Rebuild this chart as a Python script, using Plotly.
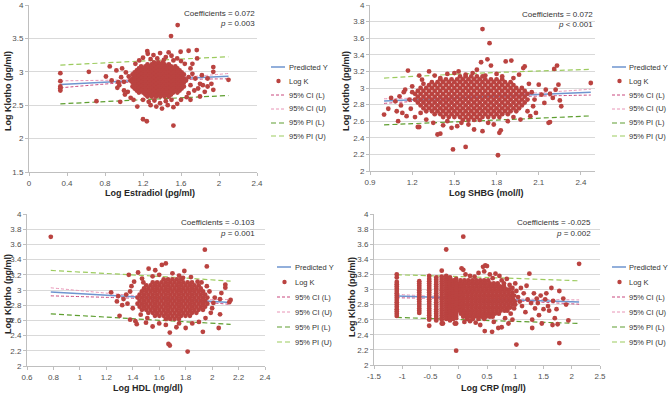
import plotly.graph_objects as go

W, H = 669, 393
FONT = "Liberation Sans, Arial, sans-serif"

# ------------------------------------------------------------------ data
legend_names = ["Predicted Y", "Log K", "95% CI (L)", "95% CI (U)", "95% PI (L)", "95% PI (U)"]

# ---- Panel 1: Log Estradiol
est_xticks = [0, 0.4, 0.8, 1.2, 1.6, 2, 2.4]
est_yticks = [1.5, 2, 2.5, 3, 3.5, 4]
est_line_x = [0.33, 1.35, 2.10]
est_pred = [2.81, 2.883, 2.935]
est_ci_l = [2.76, 2.871, 2.895]
est_ci_u = [2.865, 2.895, 2.975]
est_pi_l = [2.52, 2.593, 2.645]
est_pi_u = [3.10, 3.173, 3.225]
est_core = [
    (3.14, [1.315, 1.36, 1.405]),
    (3.11, [1.247, 1.292, 1.337, 1.382, 1.427, 1.472]),
    (3.08, [1.18, 1.225, 1.27, 1.315, 1.36, 1.405, 1.45, 1.495, 1.54]),
    (3.05, [1.157, 1.202, 1.247, 1.292, 1.337, 1.382, 1.427, 1.472, 1.517, 1.562]),
    (3.02, [1.135, 1.18, 1.225, 1.27, 1.315, 1.36, 1.405, 1.45, 1.495, 1.54, 1.585]),
    (2.99, [1.112, 1.157, 1.202, 1.247, 1.292, 1.337, 1.382, 1.427, 1.472, 1.517, 1.562, 1.607]),
    (2.96, [1.09, 1.135, 1.18, 1.225, 1.27, 1.315, 1.36, 1.405, 1.45, 1.495, 1.54, 1.585, 1.63]),
    (2.93, [1.112, 1.157, 1.202, 1.247, 1.292, 1.337, 1.382, 1.427, 1.472, 1.517, 1.562, 1.607]),
    (2.90, [1.09, 1.135, 1.18, 1.225, 1.27, 1.315, 1.36, 1.405, 1.45, 1.495, 1.54, 1.585, 1.63]),
    (2.87, [1.067, 1.112, 1.157, 1.202, 1.247, 1.292, 1.337, 1.382, 1.427, 1.472, 1.517, 1.562, 1.607, 1.652]),
    (2.84, [1.09, 1.135, 1.18, 1.225, 1.27, 1.315, 1.36, 1.405, 1.45, 1.495, 1.54, 1.585, 1.63]),
    (2.81, [1.112, 1.157, 1.202, 1.247, 1.292, 1.337, 1.382, 1.427, 1.472, 1.517, 1.562, 1.607]),
    (2.78, [1.09, 1.135, 1.18, 1.225, 1.27, 1.315, 1.36, 1.405, 1.45, 1.495, 1.54, 1.585, 1.63]),
    (2.75, [1.112, 1.157, 1.202, 1.247, 1.292, 1.337, 1.382, 1.427, 1.472, 1.517, 1.562, 1.607]),
    (2.72, [1.135, 1.18, 1.225, 1.27, 1.315, 1.36, 1.405, 1.45, 1.495, 1.54, 1.585]),
    (2.69, [1.157, 1.202, 1.247, 1.292, 1.337, 1.382, 1.427, 1.472, 1.517, 1.562]),
    (2.66, [1.225, 1.27, 1.315, 1.36, 1.405, 1.45, 1.495]),
    (2.63, [1.247, 1.292, 1.337, 1.382, 1.427, 1.472]),
]
est_halo = [
    (1.565, 3.70), (1.495, 3.535), (1.245, 3.31), (1.68, 3.315), (1.766, 3.325), (1.596, 3.30),
    (1.25, 3.27), (1.31, 3.25), (1.38, 3.28), (1.44, 3.22), (1.50, 3.24), (1.56, 3.20),
    (1.20, 3.21), (1.16, 3.17), (1.28, 3.19), (1.42, 3.18), (1.52, 3.17), (1.60, 3.16),
    (1.35, 3.20), (1.47, 3.29), (1.64, 3.12), (1.12, 3.12),
    (0.33, 2.98), (0.63, 3.00), (0.33, 2.86), (0.33, 2.78), (0.33, 2.755), (0.33, 2.72),
    (0.71, 2.56), (0.85, 3.08), (0.81, 2.93), (0.87, 2.87), (0.94, 2.845), (0.93, 2.76),
    (1.00, 2.72), (1.01, 2.66), (0.96, 2.55), (1.07, 2.61), (1.10, 2.58), (0.98, 3.05),
    (0.92, 3.02), (0.97, 2.92), (1.02, 2.99), (1.00, 2.85), (0.95, 2.80), (1.04, 2.70),
    (1.70, 3.05), (1.72, 2.97), (1.75, 2.90), (1.70, 2.80), (1.74, 2.72), (1.68, 2.68),
    (1.80, 2.82), (1.78, 2.75), (1.83, 2.80), (1.85, 2.70), (1.88, 2.78), (1.92, 2.82),
    (1.80, 2.63), (1.66, 2.62), (1.72, 3.12), (1.77, 3.20), (1.94, 3.07), (1.94, 3.00),
    (2.10, 2.88), (1.94, 2.73), (1.88, 2.90), (1.82, 2.95), (1.70, 2.58), (1.68, 2.92),
    (1.20, 2.58), (1.26, 2.55), (1.32, 2.57), (1.38, 2.53), (1.44, 2.56), (1.50, 2.58),
    (1.56, 2.52), (1.60, 2.58), (1.34, 2.48), (1.40, 2.45), (1.46, 2.50), (1.28, 2.50),
    (1.14, 2.48), (1.52, 2.47), (1.20, 2.29), (1.24, 2.26), (1.52, 2.195), (1.05, 2.93),
]

# ---- Panel 2: Log SHBG
shbg_xticks = [0.9, 1.2, 1.5, 1.8, 2.1, 2.4]
shbg_yticks = [2, 2.2, 2.4, 2.6, 2.8, 3, 3.2, 3.4, 3.6, 3.8, 4]
shbg_line_x = [1.0, 1.65, 2.47]
shbg_pred = [2.843, 2.89, 2.949]
shbg_ci_l = [2.815, 2.88, 2.915]
shbg_ci_u = [2.87, 2.90, 2.985]
shbg_pi_l = [2.556, 2.603, 2.664]
shbg_pi_u = [3.12, 3.177, 3.224]
shbg_core = [
    (3.14, [1.54, 1.58, 1.62, 1.66, 1.70]),
    (3.105, [1.40, 1.44, 1.48, 1.52, 1.56, 1.60, 1.64, 1.68, 1.72, 1.76, 1.80, 1.84]),
    (3.07, [1.34, 1.38, 1.42, 1.46, 1.50, 1.54, 1.58, 1.62, 1.66, 1.70, 1.74, 1.78, 1.82, 1.86, 1.90]),
    (3.035, [1.32, 1.36, 1.40, 1.44, 1.48, 1.52, 1.56, 1.60, 1.64, 1.68, 1.72, 1.76, 1.80, 1.84, 1.88, 1.92]),
    (3.00, [1.26, 1.30, 1.34, 1.38, 1.42, 1.46, 1.50, 1.54, 1.58, 1.62, 1.66, 1.70, 1.74, 1.78, 1.82, 1.86, 1.90, 1.94, 1.98]),
    (2.965, [1.24, 1.28, 1.32, 1.36, 1.40, 1.44, 1.48, 1.52, 1.56, 1.60, 1.64, 1.68, 1.72, 1.76, 1.80, 1.84, 1.88, 1.92, 1.96, 2.00]),
    (2.93, [1.22, 1.26, 1.30, 1.34, 1.38, 1.42, 1.46, 1.50, 1.54, 1.58, 1.62, 1.66, 1.70, 1.74, 1.78, 1.82, 1.86, 1.90, 1.94, 1.98, 2.02]),
    (2.895, [1.24, 1.28, 1.32, 1.36, 1.40, 1.44, 1.48, 1.52, 1.56, 1.60, 1.64, 1.68, 1.72, 1.76, 1.80, 1.84, 1.88, 1.92, 1.96, 2.00]),
    (2.86, [1.22, 1.26, 1.30, 1.34, 1.38, 1.42, 1.46, 1.50, 1.54, 1.58, 1.62, 1.66, 1.70, 1.74, 1.78, 1.82, 1.86, 1.90, 1.94, 1.98, 2.02]),
    (2.825, [1.24, 1.28, 1.32, 1.36, 1.40, 1.44, 1.48, 1.52, 1.56, 1.60, 1.64, 1.68, 1.72, 1.76, 1.80, 1.84, 1.88, 1.92, 1.96, 2.00]),
    (2.79, [1.26, 1.30, 1.34, 1.38, 1.42, 1.46, 1.50, 1.54, 1.58, 1.62, 1.66, 1.70, 1.74, 1.78, 1.82, 1.86, 1.90, 1.94, 1.98]),
    (2.755, [1.28, 1.32, 1.36, 1.40, 1.44, 1.48, 1.52, 1.56, 1.60, 1.64, 1.68, 1.72, 1.76, 1.80, 1.84, 1.88, 1.92, 1.96]),
    (2.72, [1.30, 1.34, 1.38, 1.42, 1.46, 1.50, 1.54, 1.58, 1.62, 1.66, 1.70, 1.74, 1.78, 1.82, 1.86, 1.90, 1.94]),
    (2.685, [1.36, 1.40, 1.44, 1.48, 1.52, 1.56, 1.60, 1.64, 1.68, 1.72, 1.76, 1.80, 1.84, 1.88]),
    (2.65, [1.42, 1.46, 1.50, 1.54, 1.58, 1.62, 1.66, 1.70, 1.74, 1.78, 1.82]),
    (2.615, [1.56, 1.60, 1.64, 1.68]),
]
shbg_halo = [
    (1.70, 3.71), (1.75, 3.54), (1.49, 2.26), (1.58, 2.29), (1.81, 2.19), (1.40, 2.45),
    (1.00, 2.68), (1.03, 2.75), (1.05, 2.88), (1.08, 2.84), (1.09, 2.72), (1.10, 2.60),
    (1.11, 2.90), (1.12, 2.79), (1.13, 2.70), (1.14, 2.95), (1.15, 2.98), (1.16, 2.66),
    (1.17, 3.21), (1.18, 2.86), (1.19, 2.75), (1.20, 2.95), (1.20, 3.02), (1.22, 2.65),
    (1.24, 2.53), (1.25, 3.15), (1.26, 2.70), (1.28, 3.05), (1.30, 2.62), (1.27, 3.10),
    (1.32, 3.20), (1.36, 3.15), (1.40, 3.12), (1.45, 3.17), (1.50, 3.18), (1.53, 3.20),
    (1.58, 3.16), (1.63, 3.18), (1.66, 3.22), (1.69, 3.31), (1.72, 3.15), (1.735, 3.345),
    (1.76, 3.27), (1.80, 3.17), (1.84, 3.14), (1.865, 3.32), (1.905, 3.33), (1.92, 3.12),
    (1.99, 3.24), (2.00, 3.26), (1.96, 3.16),
    (2.03, 3.05), (2.05, 2.95), (2.06, 2.78), (2.07, 2.86), (2.08, 2.70), (2.10, 3.04),
    (2.12, 2.92), (2.14, 2.82), (2.15, 2.98), (2.17, 2.58), (2.18, 2.93), (2.20, 2.88),
    (2.21, 3.23), (2.23, 3.27), (2.24, 3.04), (2.25, 2.85), (2.26, 2.78), (2.22, 2.98),
    (2.47, 3.06), (2.04, 2.66), (2.02, 2.72), (2.18, 2.59),
    (1.35, 2.58), (1.38, 2.44), (1.42, 2.55), (1.45, 2.60), (1.48, 2.52), (1.52, 2.54),
    (1.55, 2.58), (1.60, 2.56), (1.64, 2.50), (1.70, 2.48), (1.74, 2.58), (1.78, 2.56),
    (1.82, 2.46), (1.83, 2.49), (1.88, 2.60), (1.92, 2.65), (1.97, 2.62), (1.25, 2.53),
]

# ---- Panel 3: Log HDL
hdl_xticks = [0.6, 0.8, 1, 1.2, 1.4, 1.6, 1.8, 2, 2.2, 2.4]
hdl_yticks = [2, 2.2, 2.4, 2.6, 2.8, 3, 3.2, 3.4, 3.6, 3.8, 4]
hdl_line_x = [0.78, 1.70, 2.14]
hdl_pred = [2.975, 2.88, 2.835]
hdl_ci_l = [2.923, 2.87, 2.81]
hdl_ci_u = [3.029, 2.89, 2.875]
hdl_pi_l = [2.686, 2.592, 2.549]
hdl_pi_u = [3.257, 3.168, 3.116]
hdl_core = [
    (3.14, [1.634, 1.667, 1.70, 1.733, 1.766]),
    (3.10, [1.551, 1.584, 1.617, 1.65, 1.683, 1.716, 1.749, 1.782, 1.815, 1.848]),
    (3.06, [1.502, 1.535, 1.568, 1.601, 1.634, 1.667, 1.70, 1.733, 1.766, 1.799, 1.832, 1.865, 1.898]),
    (3.02, [1.485, 1.518, 1.551, 1.584, 1.617, 1.65, 1.683, 1.716, 1.749, 1.782, 1.815, 1.848, 1.881, 1.914]),
    (2.98, [1.469, 1.502, 1.535, 1.568, 1.601, 1.634, 1.667, 1.70, 1.733, 1.766, 1.799, 1.832, 1.865, 1.898, 1.931]),
    (2.94, [1.452, 1.485, 1.518, 1.551, 1.584, 1.617, 1.65, 1.683, 1.716, 1.749, 1.782, 1.815, 1.848, 1.881, 1.914, 1.947]),
    (2.90, [1.436, 1.469, 1.502, 1.535, 1.568, 1.601, 1.634, 1.667, 1.70, 1.733, 1.766, 1.799, 1.832, 1.865, 1.898, 1.931, 1.964]),
    (2.86, [1.452, 1.485, 1.518, 1.551, 1.584, 1.617, 1.65, 1.683, 1.716, 1.749, 1.782, 1.815, 1.848, 1.881, 1.914, 1.947]),
    (2.82, [1.436, 1.469, 1.502, 1.535, 1.568, 1.601, 1.634, 1.667, 1.70, 1.733, 1.766, 1.799, 1.832, 1.865, 1.898, 1.931, 1.964]),
    (2.78, [1.452, 1.485, 1.518, 1.551, 1.584, 1.617, 1.65, 1.683, 1.716, 1.749, 1.782, 1.815, 1.848, 1.881, 1.914, 1.947]),
    (2.74, [1.469, 1.502, 1.535, 1.568, 1.601, 1.634, 1.667, 1.70, 1.733, 1.766, 1.799, 1.832, 1.865, 1.898, 1.931]),
    (2.70, [1.518, 1.551, 1.584, 1.617, 1.65, 1.683, 1.716, 1.749, 1.782, 1.815, 1.848, 1.881]),
    (2.66, [1.568, 1.601, 1.634, 1.667, 1.70, 1.733, 1.766, 1.799, 1.832]),
    (2.62, [1.65, 1.683, 1.716, 1.749]),
]
hdl_halo = [
    (0.78, 3.70), (1.945, 3.53), (1.96, 3.31), (1.67, 2.29), (1.68, 2.27), (1.815, 2.19),
    (1.236, 2.97), (1.28, 2.85), (1.30, 2.66), (1.38, 2.61), (1.43, 2.55), (1.37, 3.20),
    (1.44, 3.23), (1.52, 3.28), (1.57, 3.26), (1.62, 3.33), (1.65, 3.35), (1.79, 3.25),
    (1.78, 3.16), (1.89, 3.11), (2.10, 3.07), (2.10, 3.03), (2.14, 2.87), (2.06, 2.68),
    (2.05, 2.50), (1.93, 2.45), (1.68, 2.44), (1.80, 2.50), (1.73, 2.51), (1.85, 2.56),
    (1.95, 2.63), (2.00, 2.76), (2.01, 2.83), (2.06, 2.88), (2.07, 2.96), (1.96, 3.05),
    (1.46, 2.675), (1.42, 2.59), (1.36, 2.82), (1.35, 2.94), (1.39, 3.05), (1.41, 3.11),
    (1.33, 2.88), (1.29, 2.92), (1.51, 2.63), (1.55, 3.18), (1.60, 3.20), (1.70, 3.22),
    (1.75, 3.19), (1.84, 3.17), (1.92, 3.10), (1.98, 2.98), (2.02, 2.90), (1.99, 2.70),
    (1.90, 2.58), (1.60, 2.56), (1.55, 2.52), (1.65, 2.54), (1.75, 2.56), (1.50, 2.57),
    (1.40, 2.76), (1.38, 2.98), (1.47, 3.15), (1.32, 2.80), (1.48, 3.10), (2.13, 2.84),
]

# ---- Panel 4: Log CRP
crp_xticks = [-1.5, -1, -0.5, 0, 0.5, 1, 1.5, 2, 2.5]
crp_yticks = [2, 2.2, 2.4, 2.6, 2.8, 3, 3.2, 3.4, 3.6, 3.8, 4]
crp_line_x = [-1.1, 0.3, 2.13]
crp_pred = [2.915, 2.88, 2.834]
crp_ci_l = [2.89, 2.872, 2.805]
crp_ci_u = [2.935, 2.888, 2.862]
crp_pi_l = [2.63, 2.595, 2.55]
crp_pi_u = [3.195, 3.165, 3.115]
crp_levels = [-1.097, -0.699, -0.523, -0.398, -0.301, -0.222, -0.155, -0.097, -0.046]
crp_level_y = [
    [3.20, 3.16, 3.10, 3.07, 3.04, 3.01, 2.98, 2.95, 2.92, 2.89, 2.86, 2.83, 2.80, 2.77, 2.74, 2.71, 2.68, 2.65],
    [3.11, 3.08, 3.05, 3.02, 2.99, 2.96, 2.93, 2.90, 2.87, 2.84, 2.81, 2.78, 2.75, 2.72, 2.69],
    [3.18, 3.14, 3.11, 3.08, 3.05, 3.02, 2.99, 2.96, 2.93, 2.90, 2.87, 2.84, 2.81, 2.78, 2.75, 2.72, 2.69, 2.66, 2.63, 2.60, 2.52],
    [3.16, 3.13, 3.10, 3.07, 3.04, 3.01, 2.98, 2.95, 2.92, 2.89, 2.86, 2.83, 2.80, 2.77, 2.74, 2.71, 2.68, 2.65, 2.62, 2.59],
    [3.25, 3.17, 3.14, 3.11, 3.08, 3.05, 3.02, 2.99, 2.96, 2.93, 2.90, 2.87, 2.84, 2.81, 2.78, 2.75, 2.72, 2.69, 2.66, 2.63, 2.60, 2.55],
    [3.53, 3.18, 3.15, 3.12, 3.09, 3.06, 3.03, 3.00, 2.97, 2.94, 2.91, 2.88, 2.85, 2.82, 2.79, 2.76, 2.73, 2.70, 2.67, 2.64, 2.61],
    [3.16, 3.13, 3.10, 3.07, 3.04, 3.01, 2.98, 2.95, 2.92, 2.89, 2.86, 2.83, 2.80, 2.77, 2.74, 2.71, 2.68, 2.65, 2.62, 2.59],
    [3.12, 3.09, 3.06, 3.03, 3.00, 2.97, 2.94, 2.91, 2.88, 2.85, 2.82, 2.79, 2.76, 2.73, 2.70, 2.67, 2.64, 2.61],
    [3.14, 3.10, 3.07, 3.04, 3.01, 2.98, 2.95, 2.92, 2.89, 2.86, 2.83, 2.80, 2.77, 2.74, 2.71, 2.68, 2.65, 2.62, 2.55, 2.19],
]
crp_core = [
    (3.12, [0.03, 0.10, 0.17, 0.24, 0.31, 0.38, 0.45, 0.52]),
    (3.08, [0.01, 0.06, 0.13, 0.20, 0.27, 0.34, 0.41, 0.48, 0.55, 0.62, 0.69]),
    (3.04, [0.00, 0.04, 0.10, 0.17, 0.24, 0.31, 0.38, 0.45, 0.52, 0.59, 0.66, 0.73, 0.80]),
    (3.00, [0.02, 0.07, 0.14, 0.21, 0.28, 0.35, 0.42, 0.49, 0.56, 0.63, 0.70, 0.77, 0.84, 0.90]),
    (2.96, [0.00, 0.04, 0.11, 0.18, 0.25, 0.32, 0.39, 0.46, 0.53, 0.60, 0.67, 0.74, 0.81, 0.88, 0.95]),
    (2.92, [0.02, 0.08, 0.15, 0.22, 0.29, 0.36, 0.43, 0.50, 0.57, 0.64, 0.71, 0.78, 0.85, 0.92, 0.98]),
    (2.88, [0.00, 0.04, 0.11, 0.18, 0.25, 0.32, 0.39, 0.46, 0.53, 0.60, 0.67, 0.74, 0.81, 0.88, 0.95]),
    (2.84, [0.02, 0.08, 0.15, 0.22, 0.29, 0.36, 0.43, 0.50, 0.57, 0.64, 0.71, 0.78, 0.85, 0.92, 0.99]),
    (2.80, [0.00, 0.04, 0.11, 0.18, 0.25, 0.32, 0.39, 0.46, 0.53, 0.60, 0.67, 0.74, 0.81, 0.88, 0.95]),
    (2.76, [0.02, 0.08, 0.15, 0.22, 0.29, 0.36, 0.43, 0.50, 0.57, 0.64, 0.71, 0.78, 0.85, 0.91]),
    (2.72, [0.01, 0.05, 0.11, 0.18, 0.25, 0.32, 0.39, 0.46, 0.53, 0.60, 0.67, 0.74, 0.81, 0.86]),
    (2.68, [0.04, 0.09, 0.15, 0.22, 0.29, 0.36, 0.43, 0.50, 0.57, 0.64, 0.71]),
    (2.64, [0.08, 0.14, 0.20, 0.27, 0.34, 0.41, 0.48, 0.55, 0.60]),
    (2.61, [0.15, 0.25, 0.35, 0.45]),
]
crp_halo = [
    (0.08, 3.70), (0.05, 3.28), (0.08, 3.26), (0.12, 3.20), (0.20, 3.18), (0.28, 3.17),
    (0.35, 3.22), (0.43, 3.30), (0.47, 3.32), (0.50, 3.31), (0.45, 3.24), (0.55, 3.20),
    (0.60, 3.15), (0.65, 3.21), (0.72, 3.18), (0.76, 3.12), (0.80, 3.08), (0.85, 3.14),
    (0.90, 3.06), (0.95, 3.02), (1.00, 3.08), (1.02, 2.98), (1.05, 2.90), (1.08, 2.84),
    (1.10, 3.02), (1.12, 2.78), (1.15, 2.95), (1.18, 2.70), (1.22, 2.87), (1.25, 3.21),
    (1.28, 2.82), (1.30, 2.60), (1.33, 2.95), (1.35, 2.75), (1.38, 2.88), (1.42, 2.66),
    (1.45, 2.92), (1.50, 2.74), (1.53, 2.87), (1.58, 2.78), (1.64, 3.02), (1.67, 2.85),
    (1.70, 2.62), (1.73, 2.74), (1.78, 2.98), (1.85, 2.88), (1.94, 2.59), (2.13, 3.34),
    (1.30, 2.49), (1.66, 2.53), (1.78, 2.29), (1.02, 2.27), (0.95, 2.60), (0.88, 2.55),
    (0.76, 2.50), (0.70, 2.49), (0.59, 2.44), (0.46, 2.45), (0.38, 2.53), (0.30, 2.56),
    (0.20, 2.58), (0.10, 2.57), (-0.07, 2.55), (0.62, 2.57), (0.82, 2.62), (0.92, 2.68),
    (0.98, 2.75), (1.00, 2.80), (0.97, 2.86), (1.60, 2.72), (1.40, 2.82), (1.20, 3.05),
    (1.47, 2.55), (1.55, 2.95), (1.75, 2.54), (1.90, 2.80), (-0.28, 2.55),
]

# ------------------------------------------------------------------ helpers
def rows_to_xy(rows):
    xs, ys = [], []
    for yv, row in rows:
        for xv in row:
            xs.append(xv)
            ys.append(yv)
    return xs, ys


def pts_to_xy(pts):
    return [p[0] for p in pts], [p[1] for p in pts]


def all_points(core, halo, levels=None, level_y=None):
    cx, cy = rows_to_xy(core)
    hx, hy = pts_to_xy(halo)
    xs, ys = cx + hx, cy + hy
    if levels:
        for lv, yl in zip(levels, level_y):
            xs += [lv] * len(yl)
            ys += list(yl)
    return xs, ys


def fmt(v):
    return "%g" % v


MARK = "#BA4340"
STY = [
    dict(color="#6E95CF", width=1.5, dash="solid"),
    None,
    dict(color="#C9487E", width=1, dash="3px,2px"),
    dict(color="#E894B6", width=1, dash="3px,2px"),
    dict(color="#5E9E30", width=1.2, dash="5px,3px"),
    dict(color="#9CCB5E", width=1.2, dash="5px,3px"),
]

p1x, p1y = all_points(est_core, est_halo)
p2x, p2y = all_points(shbg_core, shbg_halo)
p3x, p3y = all_points(hdl_core, hdl_halo)
p4x, p4y = all_points(crp_core, crp_halo, crp_levels, crp_level_y)

panels = [
    dict(px=p1x, py=p1y, lx=est_line_x, lines=[est_pred, est_ci_l, est_ci_u, est_pi_l, est_pi_u],
         xr=[0, 2.4], xt=est_xticks, yr=[1.5, 4], yt=est_yticks,
         dx=(29, 257), dy=(5, 172), coef="Coefficients = 0.072", p="<i>p</i> = 0.003",
         cpos=(257, 14, 23.5), leg=(271, 287, [67, 81, 95, 109, 123, 136]),
         yt_pos=(8, 91), xt_pos=(150, 193), xtitle="Log Estradiol (pg/ml)"),
    dict(px=p2x, py=p2y, lx=shbg_line_x, lines=[shbg_pred, shbg_ci_l, shbg_ci_u, shbg_pi_l, shbg_pi_u],
         xr=[0.9, 2.5], xt=shbg_xticks, yr=[2, 4], yt=shbg_yticks,
         dx=(370, 595), dy=(5, 171), coef="Coefficients = 0.072", p="<i>p</i> &lt; 0.001",
         cpos=(595, 15, 25), leg=(612, 627, [67, 81, 95, 109, 123, 136]),
         yt_pos=(346, 91), xt_pos=(486, 193), xtitle="Log SHBG (mol/l)"),
    dict(px=p3x, py=p3y, lx=hdl_line_x, lines=[hdl_pred, hdl_ci_l, hdl_ci_u, hdl_pi_l, hdl_pi_u],
         xr=[0.6, 2.4], xt=hdl_xticks, yr=[2, 4], yt=hdl_yticks,
         dx=(27, 265), dy=(214, 366), coef="Coefficients = -0.103", p="<i>p</i> = 0.001",
         cpos=(257, 222, 233), leg=(277, 293, [267, 282, 297, 312, 327, 342]),
         yt_pos=(8, 294), xt_pos=(148, 388), xtitle="Log HDL (mg/dl)"),
    dict(px=p4x, py=p4y, lx=crp_line_x, lines=[crp_pred, crp_ci_l, crp_ci_u, crp_pi_l, crp_pi_u],
         xr=[-1.5, 2.5], xt=crp_xticks, yr=[2, 4], yt=crp_yticks,
         dx=(374, 600), dy=(214, 365), coef="Coefficients = -0.025", p="<i>p</i> = 0.002",
         cpos=(593, 222, 233), leg=(612, 627, [267, 282, 297, 312, 327, 342]),
         yt_pos=(352, 297), xt_pos=(493, 388), xtitle="Log CRP (mg/l)"),
]

fig = go.Figure()
annotations = []
shapes = []
layout_axes = {}

for i, pn in enumerate(panels):
    k = "" if i == 0 else str(i + 1)
    xa, ya = "x" + k, "y" + k
    for j in [4, 3, 2, 1, 0]:
        st = STY[[0, 2, 3, 4, 5][j]]
        fig.add_trace(go.Scatter(x=pn["lx"], y=pn["lines"][j], mode="lines", line=st,
                                 xaxis=xa, yaxis=ya, showlegend=False, hoverinfo="skip",
                                 line_shape="spline"))
    fig.add_trace(go.Scatter(x=pn["px"], y=pn["py"], mode="markers", name="Log K",
                             marker=dict(color=MARK, size=4.8, line=dict(width=0)),
                             xaxis=xa, yaxis=ya, showlegend=False))
    axstyle = dict(showline=True, linecolor="#BFBFBF", linewidth=1, zeroline=False,
                   ticks="outside", ticklen=3, tickcolor="#BFBFBF", automargin=False,
                   tickfont=dict(family=FONT, size=8, color="#505050"))
    layout_axes["xaxis" + k] = dict(
        domain=[pn["dx"][0] / W, pn["dx"][1] / W], range=pn["xr"], anchor=ya,
        tickvals=pn["xt"], ticktext=[fmt(v) for v in pn["xt"]], showgrid=False, **axstyle)
    layout_axes["yaxis" + k] = dict(
        domain=[1 - pn["dy"][1] / H, 1 - pn["dy"][0] / H], range=pn["yr"], anchor=xa,
        tickvals=pn["yt"], ticktext=[fmt(v) for v in pn["yt"]], showgrid=True,
        gridcolor="#D9D9D9", gridwidth=1, **axstyle)

    txtfont = dict(family=FONT, size=8, color="#333333")
    cx, cy1, cy2 = pn["cpos"]
    annotations.append(dict(text=pn["coef"], x=cx / W, y=1 - cy1 / H, xref="paper", yref="paper",
                            xanchor="right", yanchor="middle", showarrow=False, font=txtfont))
    annotations.append(dict(text=pn["p"], x=cx / W, y=1 - cy2 / H, xref="paper", yref="paper",
                            xanchor="right", yanchor="middle", showarrow=False, font=txtfont))
    tf = dict(family=FONT, size=9, color="#262626")
    annotations.append(dict(text="<b>Log Klotho (pg/ml)</b>", x=pn["yt_pos"][0] / W, y=1 - pn["yt_pos"][1] / H,
                            xref="paper", yref="paper", textangle=-90, showarrow=False,
                            xanchor="center", yanchor="middle", font=tf))
    annotations.append(dict(text="<b>" + pn["xtitle"] + "</b>", x=pn["xt_pos"][0] / W, y=1 - pn["xt_pos"][1] / H,
                            xref="paper", yref="paper", showarrow=False,
                            xanchor="center", yanchor="middle", font=tf))
    lx0, tx, ys = pn["leg"]
    for j, name in enumerate(legend_names):
        yy = 1 - ys[j] / H
        if j == 1:
            r = 2.2
            cxp = lx0 + 7.5
            shapes.append(dict(type="circle", xref="paper", yref="paper",
                               x0=(cxp - r) / W, x1=(cxp + r) / W,
                               y0=1 - (ys[j] + r) / H, y1=1 - (ys[j] - r) / H,
                               fillcolor=MARK, line=dict(width=0)))
        else:
            st = STY[j]
            shapes.append(dict(type="line", xref="paper", yref="paper",
                               x0=lx0 / W, x1=(lx0 + 14) / W, y0=yy, y1=yy,
                               line=dict(color=st["color"], width=st["width"], dash=st["dash"])))
        annotations.append(dict(text=name, x=tx / W, y=yy, xref="paper", yref="paper",
                                xanchor="left", yanchor="middle", showarrow=False,
                                font=dict(family=FONT, size=7.5, color="#333333")))

fig.update_layout(
    width=W, height=H, margin=dict(l=0, r=0, t=0, b=0, autoexpand=False),
    paper_bgcolor="white", plot_bgcolor="white",
    showlegend=False, annotations=annotations, shapes=shapes,
    font=dict(family=FONT), **layout_axes)

fig.write_html("out.html", config={"displayModeBar": False},
               post_script="document.body.style.margin='0';document.body.style.overflow='hidden';")
